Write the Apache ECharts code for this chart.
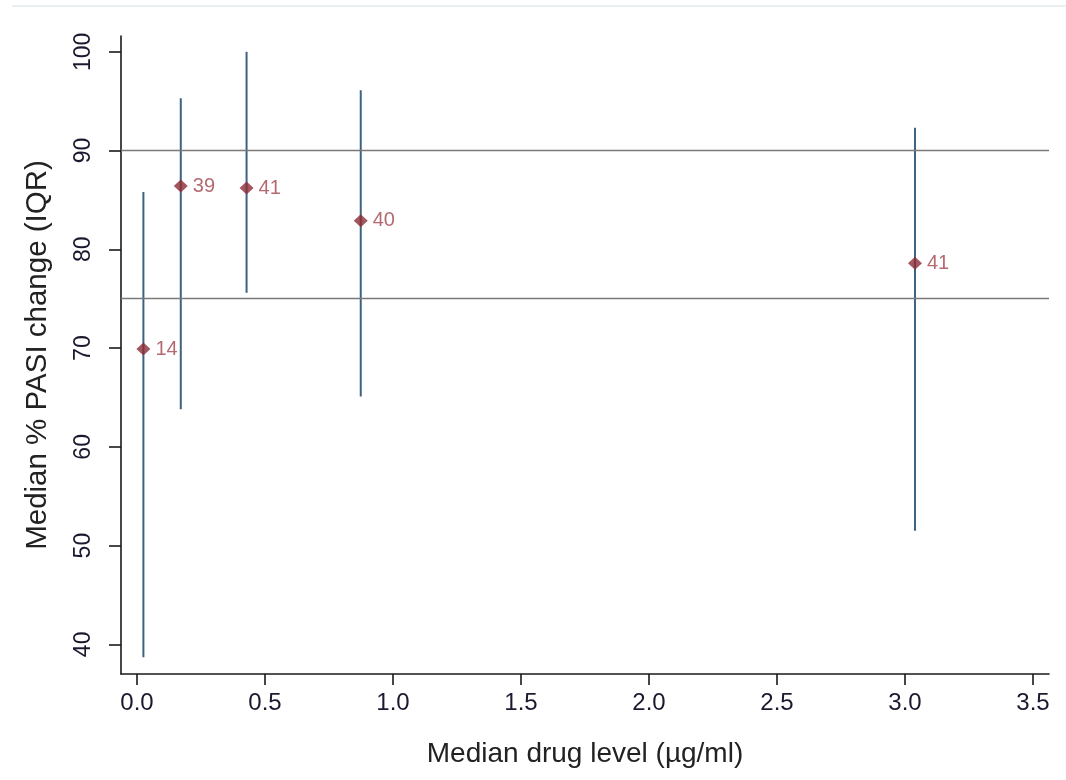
<!DOCTYPE html>
<html>
<head>
<meta charset="utf-8">
<script src="https://cdn.jsdelivr.net/npm/echarts@6/dist/echarts.min.js"></script>
<style>
html,body{margin:0;padding:0;background:#fff;}
#wrap{position:relative;width:1066px;height:780px;}
#topline{position:absolute;left:12px;right:0;top:5px;height:0;border-top:2px solid #eaf0f2;}
#chart{position:absolute;left:0;top:0;width:1066px;height:780px;}
</style>
</head>
<body>
<div id="wrap"><div id="topline"></div><div id="chart"></div></div>
<script>
// Data
const drugLevel = [0.025, 0.171, 0.428, 0.874, 3.039];
const medianPasi = [69.9, 86.4, 86.2, 82.9, 78.6];
const iqrLow = [38.7, 63.8, 75.6, 65.1, 51.5];
const iqrHigh = [85.8, 95.3, 100.0, 96.1, 92.3];
const nPatients = [14, 39, 41, 40, 41];
const referenceLines = [90, 75];
const yTicks = [40, 50, 60, 70, 80, 90, 100];
const xTicks = [0, 0.5, 1.0, 1.5, 2.0, 2.5, 3.0, 3.5];

const FONT = 'Liberation Sans, Arial, sans-serif';
const chart = echarts.init(document.getElementById('chart'));

const errData = drugLevel.map((x, i) => [x, iqrLow[i], iqrHigh[i]]);
const ptData = drugLevel.map((x, i) => [x, medianPasi[i], nPatients[i]]);

chart.setOption({
  animation: false,
  backgroundColor: 'transparent',
  grid: {left: 121, right: 17, top: 36, bottom: 106, containLabel: false},
  xAxis: {
    type: 'value', min: -0.0625, max: 3.5625,
    name: 'Median drug level (\u00b5g/ml)', nameLocation: 'middle', nameGap: 66,
    nameTextStyle: {fontFamily: FONT, fontSize: 28, color: '#222'},
    axisLine: {show: true, onZero: false, lineStyle: {color: '#1a1a1a', width: 1.6}},
    axisTick: {show: true, length: 11, customValues: xTicks, lineStyle: {color: '#1a1a1a', width: 1.6}},
    axisLabel: {customValues: xTicks, margin: 17, fontFamily: FONT, fontSize: 24, color: '#1a1a2e',
      formatter: v => Number(v).toFixed(1)},
    splitLine: {show: false}
  },
  yAxis: {
    type: 'value', min: 37, max: 101.6,
    name: 'Median % PASI change (IQR)', nameLocation: 'middle', nameGap: 68, nameRotate: 90,
    nameTextStyle: {fontFamily: FONT, fontSize: 29.5, color: '#222'},
    axisLine: {show: true, onZero: false, lineStyle: {color: '#1a1a1a', width: 1.6}},
    axisTick: {show: true, length: 12, customValues: yTicks, lineStyle: {color: '#1a1a1a', width: 1.6}},
    axisLabel: {customValues: yTicks, rotate: 90, margin: 26, fontFamily: FONT, fontSize: 23, color: '#1a1a2e'},
    splitLine: {show: false}
  },
  series: [
    {
      type: 'line', data: [], silent: true,
      markLine: {
        silent: true, symbol: ['none', 'none'], label: {show: false},
        lineStyle: {color: '#7a7a7a', width: 1.3, type: 'solid'},
        data: referenceLines.map(v => ({yAxis: v}))
      }
    },
    {
      type: 'custom', data: errData, silent: true, z: 3,
      renderItem: function (params, api) {
        const p1 = api.coord([api.value(0), api.value(1)]);
        const p2 = api.coord([api.value(0), api.value(2)]);
        return {type: 'line', shape: {x1: p1[0], y1: p1[1], x2: p2[0], y2: p2[1]},
          style: {stroke: '#3d6282', lineWidth: 2}};
      }
    },
    {
      type: 'scatter', data: ptData, z: 5,
      symbol: 'diamond', symbolSize: [14, 13],
      itemStyle: {color: '#8c2c34'},
      label: {show: true, position: 'right', distance: 5, formatter: p => p.value[2],
        fontFamily: FONT, fontSize: 20, color: '#a1434c'}
    }
  ]
});
</script>
</body>
</html>
